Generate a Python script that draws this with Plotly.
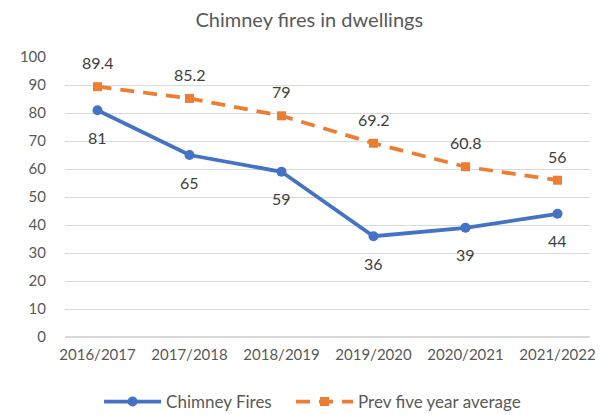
import plotly.graph_objects as go

categories = ["2016/2017", "2017/2018", "2018/2019", "2019/2020", "2020/2021", "2021/2022"]
chimney_fires = [81, 65, 59, 36, 39, 44]
prev_five_year_avg = [89.4, 85.2, 79, 69.2, 60.8, 56]
y_ticks = [0, 10, 20, 30, 40, 50, 60, 70, 80, 90, 100]

BLUE = "#4472C4"
ORANGE = "#ED7D31"
FONT = "Lato"
TEXT = "#595959"

fig = go.Figure()
fig.add_trace(go.Scatter(
    x=categories, y=chimney_fires, name="Chimney Fires", mode="lines+markers",
    line=dict(color=BLUE, width=3.75), marker=dict(symbol="circle", size=10, color=BLUE),
    legend="legend",
))
fig.add_trace(go.Scatter(
    x=categories, y=prev_five_year_avg, name="Prev five year average", mode="lines+markers",
    line=dict(color=ORANGE, width=3.75, dash="14px,9px"),
    marker=dict(symbol="square", size=9, color=ORANGE),
    legend="legend2",
))

annotations = []
for c, v in zip(categories, chimney_fires):
    annotations.append(dict(x=c, y=v, text=str(v), showarrow=False, yshift=-27,
                            font=dict(family=FONT, size=16, color="#404040")))
for c, v in zip(categories, prev_five_year_avg):
    annotations.append(dict(x=c, y=v, text=f"{v:g}", showarrow=False, yshift=24,
                            font=dict(family=FONT, size=16, color="#404040")))

legend_common = dict(orientation="h", xref="container", yref="container",
                     xanchor="left", y=0.032, yanchor="middle",
                     font=dict(family=FONT, size=17, color=TEXT), itemwidth=57,
                     bgcolor="rgba(0,0,0,0)")

fig.update_layout(
    width=599, height=407,
    margin=dict(l=52, r=14, t=49, b=78),
    paper_bgcolor="white", plot_bgcolor="white",
    title=dict(text="Chimney fires in dwellings", x=0.503, xanchor="center", y=0.971, yanchor="middle",
               font=dict(family=FONT, size=20, color=TEXT)),
    font=dict(family=FONT, size=15, color=TEXT),
    xaxis=dict(showgrid=False, showline=False, ticks="", tickfont=dict(size=15, color=TEXT),
               ticklabelstandoff=7),
    yaxis=dict(range=[0, 100], tickvals=y_ticks, showgrid=True, gridcolor="#D9D9D9", gridwidth=1,
               zeroline=True, zerolinecolor="#D9D9D9", showline=False, ticks="",
               tickfont=dict(size=15, color=TEXT), ticklabelstandoff=18),
    legend=dict(legend_common, x=0.152),
    legend2=dict(legend_common, x=0.4725),
    annotations=annotations,
    showlegend=True,
)

fig.write_html("out.html")
